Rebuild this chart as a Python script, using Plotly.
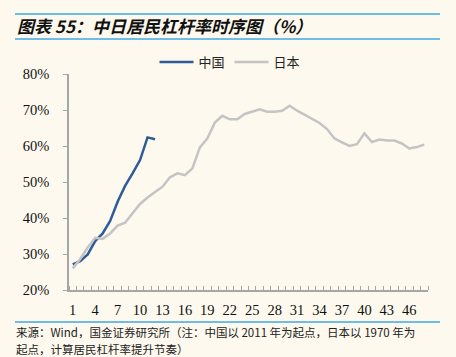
import plotly.graph_objects as go

categories = list(range(1, 49))
china = [27.1, 28.0, 29.9, 33.6, 35.7, 39.2, 44.5, 48.9, 52.4, 56.1, 62.4, 61.9]
japan = [26.0, 28.6, 31.8, 34.5, 34.2, 35.7, 37.9, 38.7, 41.3, 43.9, 45.7, 47.1,
         48.7, 51.3, 52.4, 51.9, 53.8, 59.6, 62.1, 66.5, 68.4, 67.4, 67.4, 68.9,
         69.5, 70.2, 69.5, 69.5, 69.8, 71.2, 69.8, 68.6, 67.5, 66.4, 64.7, 62.1,
         61.0, 60.0, 60.5, 63.5, 61.1, 61.8, 61.5, 61.5, 60.7, 59.3, 59.7, 60.4]
xtick_vals = list(range(1, 48, 3))
ytick_vals = [20, 30, 40, 50, 60, 70, 80]
ytick_text = [f"{v}%" for v in ytick_vals]

title_text = "图表 55：中日居民杠杆率时序图（%）"
source_line1 = "来源：Wind，国金证券研究所（注：中国以 2011 年为起点，日本以 1970 年为"
source_line2 = "起点，计算居民杠杆率提升节奏）"

BG = "#fdf9ee"
AXIS = "#a6a6a6"
BLUE_RULE = "#3fa9e0"
SERIF = "Liberation Serif, Times New Roman, DejaVu Serif, serif"

fig = go.Figure()
fig.add_trace(go.Scatter(x=categories[:len(china)], y=china, mode="lines", name="中国",
                         line=dict(color="#2f5c99", width=2.5)))
fig.add_trace(go.Scatter(x=categories, y=japan, mode="lines", name="日本",
                         line=dict(color="#c4c4c4", width=2.5)))

W, H = 456, 357
L, R, T, B = 69, 428, 74, 290


def px(xp):
    return (xp - L) / (R - L)


def py(yp):
    return (B - yp) / (B - T)


fig.update_layout(
    width=W, height=H,
    margin=dict(l=L, r=W - R, t=T, b=H - B),
    paper_bgcolor=BG, plot_bgcolor=BG,
    showlegend=True,
    legend=dict(orientation="h", x=px(230), xanchor="center", y=py(62), yanchor="middle",
                font=dict(family="Noto Sans CJK SC", size=13, color="#222"),
                bgcolor="rgba(0,0,0,0)", itemwidth=34, tracegroupgap=0),
    xaxis=dict(range=[0.5, 48.5], tickmode="array", tickvals=xtick_vals,
               ticktext=[str(v) for v in xtick_vals], ticks="", showgrid=False,
               zeroline=False, showline=True, linecolor=AXIS, linewidth=1.5,
               tickfont=dict(family=SERIF, size=14.5, color="#111"),
               ticklabelstandoff=6,
               minor=dict(ticks="inside", ticklen=4, tick0=0.5, dtick=1,
                          tickcolor=AXIS, tickwidth=1, showgrid=False)),
    yaxis=dict(range=[20, 80], tickmode="array", tickvals=ytick_vals, ticktext=ytick_text,
               ticks="outside", ticklen=4, tickcolor=AXIS, tickwidth=1,
               showgrid=False, zeroline=False, showline=True, linecolor=AXIS,
               linewidth=1.5,
               tickfont=dict(family=SERIF, size=14.5, color="#111"),
               ticklabelstandoff=11),
)

# title / source rules
for yy in (14, 39, 322):
    fig.add_shape(type="line", xref="paper", yref="paper", x0=px(15), x1=px(440),
                  y0=py(yy), y1=py(yy), line=dict(color=BLUE_RULE, width=1.5))

fig.add_annotation(text="<b><i>" + title_text + "</i></b>", xref="paper", yref="paper",
                   x=px(15), y=py(25.5), xanchor="left", yanchor="middle", showarrow=False,
                   font=dict(family="Noto Sans CJK SC", size=17, color="#111"))
fig.add_annotation(text=source_line1, xref="paper", yref="paper",
                   x=px(14), y=py(331.5), xanchor="left", yanchor="middle", showarrow=False,
                   font=dict(family="Noto Sans CJK SC", size=11.5, color="#222"))
fig.add_annotation(text=source_line2, xref="paper", yref="paper",
                   x=px(14), y=py(348.5), xanchor="left", yanchor="middle", showarrow=False,
                   font=dict(family="Noto Sans CJK SC", size=11.5, color="#222"))

fig.write_html("out.html", config={"displayModeBar": False},
               post_script="document.body.style.margin='0';"
                           "document.body.style.background='" + BG + "';")
